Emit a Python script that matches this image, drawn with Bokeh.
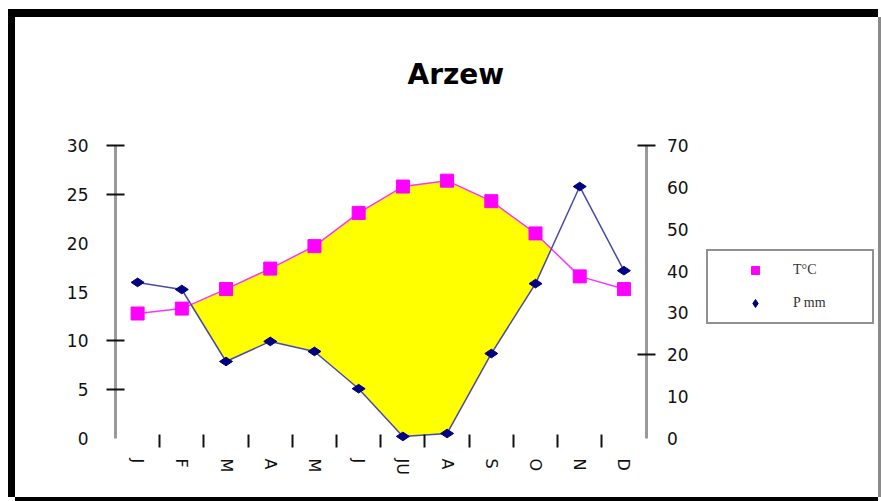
import numpy as np
from bokeh.plotting import figure
from bokeh.models import Range1d, LinearAxis, FixedTicker, Legend, LegendItem
from bokeh.embed import file_html
from bokeh.resources import INLINE

# Monthly climate normals for Arzew
months = ["J", "F", "M", "A", "M", "J", "JU", "A", "S", "O", "N", "D"]
temp_c = [12.8, 13.3, 15.3, 17.4, 19.7, 23.1, 25.8, 26.4, 24.3, 21.0, 16.6, 15.3]
precip_mm = [37.3, 35.6, 18.4, 23.2, 20.8, 11.9, 0.5, 1.2, 20.3, 37.0, 60.2, 40.1]

temp_ticks = [0, 5, 10, 15, 20, 25, 30]
precip_ticks = [0, 10, 20, 30, 40, 50, 60, 70]
T_MAX, P_MAX = 30, 70

xs = list(range(len(months)))
x_end = len(months) - 0.5  # where the rainfall axis stands

# Dry season polygon: where the temperature curve lies above the rainfall curve
scale = T_MAX / P_MAX
p_scaled = [v * scale for v in precip_mm]
top, bottom = [], []
for i in xs:
    d = temp_c[i] - p_scaled[i]
    if i > 0:
        d0 = temp_c[i - 1] - p_scaled[i - 1]
        if (d0 > 0) != (d > 0):
            t = d0 / (d0 - d)
            xc = i - 1 + t
            yc = temp_c[i - 1] + t * (temp_c[i] - temp_c[i - 1])
            top.append((xc, yc))
            bottom.append((xc, yc))
    if d > 0:
        top.append((i, temp_c[i]))
        bottom.append((i, p_scaled[i]))
poly = top + bottom[::-1]
poly_x = [q[0] for q in poly]
poly_y = [q[1] for q in poly]

# The frame runs past the axes so that the rainfall axis, the month labels
# and the legend all live inside it; the axis lines are bounded to the data.
y_lo, y_hi = -6.04, 31.64
p = figure(width=863, height=480,
           x_range=Range1d(-0.5, 16.69), y_range=Range1d(y_lo, y_hi),
           output_backend="svg", toolbar_location=None,
           min_border_left=100, min_border_right=3,
           min_border_top=112, min_border_bottom=0)
p.extra_y_ranges = {"precip": Range1d(y_lo * P_MAX / T_MAX, y_hi * P_MAX / T_MAX)}
p.outline_line_color = None
p.xgrid.visible = False
p.ygrid.visible = False
p.background_fill_color = "white"
p.border_fill_color = "white"
# Heavy chart frame drawn around the canvas
p.styles = {
    "margin-left": "15px", "margin-top": "17px",
    "box-shadow": ("-7px 0 0 0 #000, 0 -8px 0 0 #000, -7px -8px 0 0 #000, "
                   "0 4px 0 0 #000, 3px 0 0 0 #8a8a8a"),
}

p.title.text = "Arzew"
p.title.align = "left"
p.title.offset = 292
p.title.text_font = "DejaVu Sans"
p.title.text_font_size = "28px"
p.title.text_font_style = "bold"
p.title.text_color = "#000000"
if "standoff" in p.title.properties():
    p.title.standoff = 77

# Month axis on the zero line: labels on the months, tick marks between them
xax = p.xaxis[0]
xax.fixed_location = 0
xax.ticker = FixedTicker(ticks=xs, minor_ticks=[i + 0.5 for i in xs[:-1]])
xax.major_label_overrides = {i: m for i, m in enumerate(months)}
xax.major_label_orientation = "vertical"
xax.major_tick_line_color = None
xax.major_tick_in = 0
xax.major_tick_out = 0
xax.minor_tick_line_color = "#111111"
xax.minor_tick_line_width = 2
xax.minor_tick_in = 4
xax.minor_tick_out = 9
xax.axis_line_color = None
xax.major_label_standoff = 11
xax.major_label_text_font = "DejaVu Sans"
xax.major_label_text_font_size = "16px"
xax.major_label_text_color = "#111111"

# Temperature axis (left)
yax = p.yaxis[0]
yax.bounds = (0, T_MAX)
yax.ticker = FixedTicker(ticks=temp_ticks, minor_ticks=[5, 10, 25, 30])
yax.axis_line_color = "#9a9a9a"
yax.axis_line_width = 3
yax.major_tick_line_color = None
yax.major_tick_in = 0
yax.major_tick_out = 0
yax.minor_tick_line_color = "#111111"
yax.minor_tick_line_width = 2
yax.minor_tick_in = 9
yax.minor_tick_out = 9
yax.major_label_standoff = 18
yax.major_label_text_font = "DejaVu Sans"
yax.major_label_text_font_size = "17px"
yax.major_label_text_color = "#111111"

# Rainfall axis, standing just after December
rax = LinearAxis(y_range_name="precip", fixed_location=x_end, bounds=(0, P_MAX),
                 ticker=FixedTicker(ticks=precip_ticks, minor_ticks=[20, 70]))
rax.axis_line_color = "#9a9a9a"
rax.axis_line_width = 3
rax.major_tick_line_color = None
rax.major_tick_in = 0
rax.major_tick_out = 0
rax.minor_tick_line_color = "#111111"
rax.minor_tick_line_width = 2
rax.minor_tick_in = 9
rax.minor_tick_out = 9
rax.major_label_standoff = 12
rax.major_label_text_font = "DejaVu Sans"
rax.major_label_text_font_size = "17px"
rax.major_label_text_color = "#111111"
p.add_layout(rax, "right")

p.patch(poly_x, poly_y, fill_color="#FFFF00", line_color=None)

p.line(xs, temp_c, line_color="#FF33FF", line_width=1.5)
r_t = p.scatter(xs, temp_c, marker="square", size=13,
                fill_color="#FF00FF", line_color="#FF00FF")

p.line(xs, precip_mm, y_range_name="precip", line_color="#4a4aa8", line_width=1.5)
r_p = p.scatter(xs, precip_mm, y_range_name="precip", marker="diamond",
                angle=np.pi / 2, size=13,
                fill_color="#000080", line_color="#000080")

legend = Legend(items=[LegendItem(label="T°C", renderers=[r_t]),
                       LegendItem(label="P mm", renderers=[r_p])],
                location=(591, 173))
legend.border_line_color = "#222222"
legend.border_line_width = 2
legend.background_fill_color = "white"
legend.padding = 9
legend.spacing = 13
legend.glyph_width = 76
legend.glyph_height = 20
legend.label_standoff = 0
legend.label_width = 70
legend.label_text_font = "Liberation Serif"
legend.label_text_font_size = "14px"
legend.label_text_color = "#333333"
legend.margin = 0
p.add_layout(legend, "center")

open("out.html", "w").write(file_html(p, INLINE))
